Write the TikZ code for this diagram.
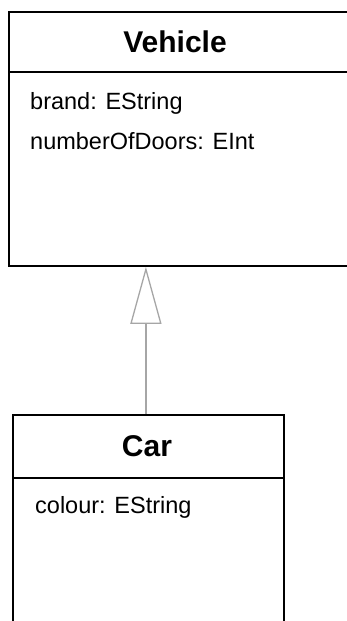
\documentclass[tikz,border=0pt]{standalone}
\usepackage{fontspec}
\setmainfont{Liberation Sans}
\usepackage{xcolor}
\usepackage{tikz}
\usetikzlibrary{arrows.meta,positioning}

\begin{document}
\begin{tikzpicture}[x=1pt, y=-1pt,
      classbox/.style={rectangle, draw, line width=1.8pt, anchor=north west, inner sep=0pt},
      title/.style={font=\fontsize{30}{32}\selectfont\bfseries, inner sep=0pt},
      attr/.style={font=\fontsize{23.5}{26}\selectfont, anchor=west, inner sep=0pt},
      inherit/.style={draw, gray!70, line width=1.3pt, -{Triangle[open, length=57pt, width=31pt]}}]
      \useasboundingbox (0,0) rectangle (347,621);
      \clip (0,0) rectangle (347,621);

      % Nodes
      \node [classbox, minimum width=360pt, minimum height=254pt] (vehicle) at (8,11) {};
      \draw [line width=1.1pt] (8,72) -- (368,72);
      \node [title] (vehicletitle) at (175,42) {Vehicle};
      \node [attr] (brand) at (30,103) {brand: EString};
      \node [attr, below=18pt of brand.south west, anchor=north west] (doors) {numberOfDoors: EInt};

      \node [classbox, minimum width=271pt, minimum height=240pt] (car) at (12,414) {};
      \draw [line width=1.1pt] (12,478) -- (283,478);
      \node [title] (cartitle) at (147,446) {Car};
      \node [attr] (colour) at (35,507) {colour: EString};

      % Edges
      \path [inherit] ([xshift=-2.5pt]car.north) -- ([xshift=-2.5pt]car.north |- vehicle.south);

    \end{tikzpicture}
\end{document}
